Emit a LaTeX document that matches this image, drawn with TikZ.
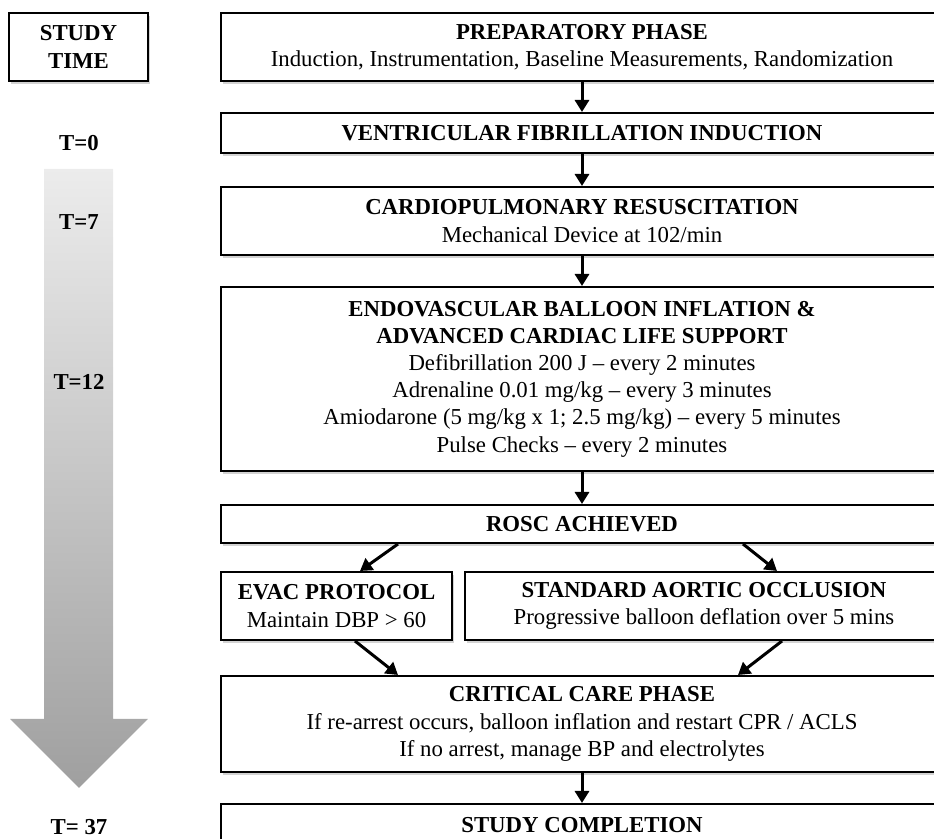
\documentclass[tikz,border=0pt]{standalone}
\usepackage{fontspec}
\setmainfont{Liberation Serif}
\usetikzlibrary{arrows.meta,shadows,positioning}

\begin{document}
\begin{tikzpicture}[x=0.5pt,y=-0.5pt,>={Triangle[width=7pt,length=6pt]},
  box/.style={draw,line width=1pt,fill=white,align=center,inner sep=0pt,
    font=\fontsize{11.4}{13.6}\selectfont,
    drop shadow={shadow xshift=1.2pt,shadow yshift=-1.4pt,opacity=0.35}},
  wide/.style={box,minimum width=361pt},
  lbl/.style={font=\bfseries\fontsize{11.4}{13.6}\selectfont},
  flow/.style={->,line width=1.5pt}]
  \useasboundingbox (0,0) rectangle (934,839);
  \clip (0,0) rectangle (934,839);
  % time axis
  \shade[top color=gray!15,bottom color=gray!75]
    (44,169) -- (113,169) -- (113,719) -- (148,719) -- (79,788) -- (10,719) -- (44,719) -- cycle;
  \node[box,minimum width=69.5pt,minimum height=34pt,font=\bfseries\fontsize{11.4}{13.6}\selectfont]
    (time) at (78.5,47) {STUDY\\TIME};
  \node[lbl] (t0) at (79,143) {T=0};
  \node[lbl] (t7) at (79,222) {T=7};
  \node[lbl] (t12) at (79,382) {T=12};
  \node[lbl] (t37) at (79,827) {T= 37};
  % protocol boxes
  \node[wide,minimum height=34pt] (prep) at (582,47)
    {\textbf{PREPARATORY PHASE}\\Induction, Instrumentation, Baseline Measurements, Randomization};
  \node[wide,minimum height=20pt] (vf) at (582,133)
    {\textbf{VENTRICULAR FIBRILLATION INDUCTION}};
  \node[wide,minimum height=34pt] (cpr) at (582,221)
    {\textbf{CARDIOPULMONARY RESUSCITATION}\\Mechanical Device at 102/min};
  \node[wide,minimum height=92pt] (endo) at (582,379)
    {\textbf{ENDOVASCULAR BALLOON INFLATION \&}\\\textbf{ADVANCED CARDIAC LIFE SUPPORT}\\
     Defibrillation 200 J – every 2 minutes\\Adrenaline 0.01 mg/kg – every 3 minutes\\
     Amiodarone (5 mg/kg x 1; 2.5 mg/kg) – every 5 minutes\\Pulse Checks – every 2 minutes};
  \node[wide,minimum height=19pt] (rosc) at (582,524) {\textbf{ROSC ACHIEVED}};
  \node[box,minimum width=115.5pt,minimum height=34pt] (evac) at (336.5,606)
    {\textbf{EVAC PROTOCOL}\\Maintain DBP > 60};
  \node[box,minimum width=239pt,minimum height=34pt] (std) at (704,606)
    {\textbf{STANDARD AORTIC OCCLUSION}\\Progressive balloon deflation over 5 mins};
  \node[wide,minimum height=48pt] (crit) at (582,724)
    {\textbf{CRITICAL CARE PHASE}\\If re-arrest occurs, balloon inflation and restart CPR / ACLS\\
     If no arrest, manage BP and electrolytes};
  \node[wide,minimum height=48pt,text depth=27pt] (done) at (582,852) {\textbf{STUDY COMPLETION}};
  % connectors
  \draw[flow] (prep) -- (vf);
  \draw[flow] (vf) -- (cpr);
  \draw[flow] (cpr) -- (endo);
  \draw[flow] (endo) -- (rosc);
  \draw[flow] ([xshift=-92pt]rosc.south) -- ([xshift=11.75pt]evac.north);
  \draw[flow] ([xshift=80.5pt]rosc.south) -- ([xshift=36.5pt]std.north);
  \draw[flow] ([xshift=9.25pt]evac.south) -- ([xshift=-92pt]crit.north);
  \draw[flow] ([xshift=39pt]std.south) -- ([xshift=78pt]crit.north);
  \draw[flow] (crit) -- (done);
\end{tikzpicture}
\end{document}
